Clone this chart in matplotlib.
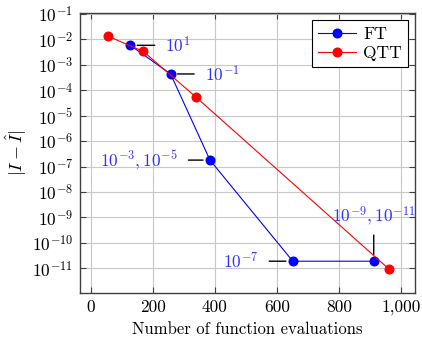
import matplotlib
matplotlib.use("Agg")
import matplotlib.pyplot as plt
from matplotlib.ticker import FuncFormatter, LogLocator, NullLocator

plt.rcParams['font.family'] = 'serif'
plt.rcParams['font.serif'] = ['cmr10']
plt.rcParams['mathtext.fontset'] = 'cm'
plt.rcParams['axes.formatter.use_mathtext'] = True

ft_x = [127, 257, 384, 651, 912]
ft_y = [5.9e-3, 4.4e-4, 1.8e-7, 1.9e-11, 1.9e-11]
qtt_x = [56, 169, 339, 961]
qtt_y = [1.33e-2, 3.4e-3, 5.4e-5, 9.3e-12]

labels = [r"$10^{1}$", r"$10^{-1}$", r"$10^{-3}, 10^{-5}$", r"$10^{-7}$", r"$10^{-9}, 10^{-11}$"]
xticks = [0, 200, 400, 600, 800, 1000]

fig = plt.figure(figsize=(4.22, 3.39), dpi=100)
ax = fig.add_axes([0.1896, 0.1366, 0.7938, 0.8242])

ax.plot(ft_x, ft_y, color='blue', lw=0.8, marker='o', ms=6.2, label='FT', zorder=3)
ax.plot(qtt_x, qtt_y, color='red', lw=0.8, marker='o', ms=6.2, label='QTT', zorder=3)

ax.set_yscale('log')
ax.set_xlim(-35, 1045)
ax.set_ylim(10**-11.96, 10**-0.97)
ax.set_xticks(xticks)
ax.xaxis.set_major_formatter(FuncFormatter(lambda v, p: f"{int(v):,}"))
ax.yaxis.set_major_locator(LogLocator(base=10, numticks=20))
ax.yaxis.set_minor_locator(NullLocator())
ax.grid(True, color='#c8c8c8', lw=0.8)
ax.set_axisbelow(True)
ax.tick_params(direction='in', top=True, right=True, labelsize=12.5, length=4, color='#404040', pad=5)
for s in ax.spines.values():
    s.set_color('#404040')
    s.set_linewidth(1.0)

ax.set_xlabel("Number of function evaluations", fontsize=12, labelpad=5)
ax.set_ylabel(r"$|I - \hat{I}|$", fontsize=13, labelpad=2)

tc = '#3030ff'
fs = 12.5
ap = dict(arrowstyle='-', color='black', lw=1, shrinkA=5.5, shrinkB=5)

ax.annotate(labels[0], xy=(ft_x[0], ft_y[0]), xytext=(35, 0), textcoords='offset pixels',
            color=tc, fontsize=fs, ha='left', va='center', arrowprops=ap)
ax.annotate(labels[1], xy=(ft_x[1], ft_y[1]), xytext=(34, 0), textcoords='offset pixels',
            color=tc, fontsize=fs, ha='left', va='center', arrowprops=ap)
ax.annotate(labels[2], xy=(ft_x[2], ft_y[2]), xytext=(-32, 0), textcoords='offset pixels',
            color=tc, fontsize=fs, ha='right', va='center', arrowprops=ap)
ax.annotate(labels[3], xy=(ft_x[3], ft_y[3]), xytext=(-34, 0), textcoords='offset pixels',
            color=tc, fontsize=fs, ha='right', va='center', arrowprops=ap)
ax.annotate(labels[4], xy=(ft_x[4], ft_y[4]), xytext=(0, 33), textcoords='offset pixels',
            color=tc, fontsize=fs, ha='center', va='bottom',
            arrowprops=dict(arrowstyle='-', color='black', lw=1, shrinkA=3, shrinkB=5))

leg = ax.legend(loc='upper right', fontsize=12.5, frameon=True, fancybox=False,
                edgecolor='black', framealpha=1, handlelength=2.2, borderpad=0.35,
                labelspacing=0.25, borderaxespad=0.4, handletextpad=0.4)
leg.get_frame().set_linewidth(0.8)

fig.savefig('out.png', dpi=100)
